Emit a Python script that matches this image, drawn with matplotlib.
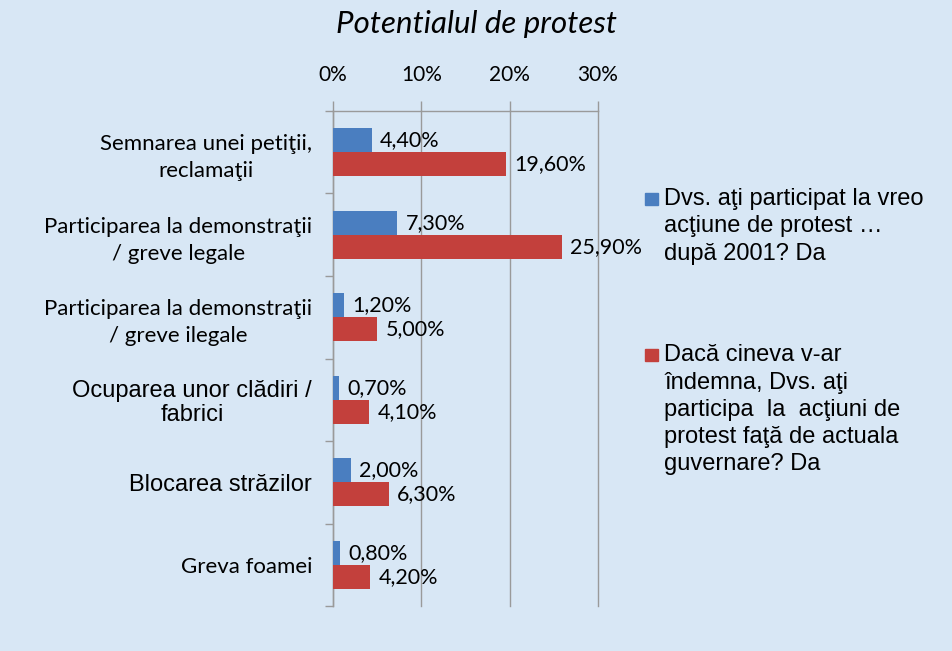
import numpy as np
import matplotlib.pyplot as plt
from matplotlib.patches import Rectangle

# Data
categories = [
    "Semnarea unei petiţii,\nreclamaţii",
    "Participarea la demonstraţii\n/ greve legale",
    "Participarea la demonstraţii\n/ greve ilegale",
    "Ocuparea unor clădiri /\nfabrici",
    "Blocarea străzilor",
    "Greva foamei",
]
participated = [4.4, 7.3, 1.2, 0.7, 2.0, 0.8]
would_participate = [19.6, 25.9, 5.0, 4.1, 6.3, 4.2]
series_names = [
    "Dvs. aţi participat la vreo\nacţiune de protest …\ndupă 2001? Da",
    "Dacă cineva v-ar\nîndemna, Dvs. aţi\nparticipa  la  acţiuni de\nprotest faţă de actuala\nguvernare? Da",
]
xticks = [0, 10, 20, 30]
colors = ["#4a7ec0", "#c3403c"]

calibri = ["Lato", "DejaVu Sans"]
arial = ["Liberation Sans", "DejaVu Sans"]
plt.rcParams['font.family'] = calibri

fig = plt.figure(figsize=(9.53, 6.51), dpi=100, facecolor="#d8e7f5")
ax = fig.add_axes([0.3494, 0.0691, 0.2781, 0.7604])
ax.set_facecolor("none")

y = np.arange(len(categories))
h = 0.29
b1 = ax.barh(y - h / 2, participated, height=h, color=colors[0], zorder=3)
b2 = ax.barh(y + h / 2, would_participate, height=h, color=colors[1], zorder=3)

fmt = lambda v: f"{v:.2f}%".replace(".", ",")
ax.bar_label(b1, labels=[fmt(v) for v in participated], padding=6, fontsize=15.5)
ax.bar_label(b2, labels=[fmt(v) for v in would_participate], padding=6, fontsize=15.5)

ax.set_xlim(0, 30)
ax.set_ylim(len(categories) - 0.5, -0.5)
ax.xaxis.tick_top()
ax.set_xticks(xticks)
ax.set_xticklabels([f"{t}%" for t in xticks], fontsize=15)
ax.tick_params(axis="x", length=7, width=1, color="#9a9a9a", pad=12)
ax.grid(axis="x", color="#9a9a9a", linewidth=1, zorder=0, clip_on=False)

ax.set_yticks(y)
ax.set_yticklabels(categories, fontsize=16, multialignment="center")
ax.tick_params(axis="y", length=0, pad=15)
ax.set_yticks(np.arange(-0.5, len(categories), 1), minor=True)
ax.tick_params(axis="y", which="minor", length=6, width=1, color="#9a9a9a")
for i, lab in enumerate(ax.get_yticklabels()):
    lab.set_linespacing(1.45)
    if i in (3, 4):
        lab.set_fontfamily(arial)
        lab.set_fontsize(17)
        lab.set_linespacing(1.1)

for s in ["right", "bottom"]:
    ax.spines[s].set_visible(False)
for s in ["left", "top"]:
    ax.spines[s].set_color("#9a9a9a")
    ax.spines[s].set_linewidth(1)

fig.text(0.5, 0.963, "Potentialul de protest", ha="center", va="center",
         fontsize=22.5, style="italic")

# legend
leg_y = [0.711, 0.471]
for name, c, ly in zip(series_names, colors, leg_y):
    fig.patches.append(Rectangle((0.677, ly - 0.026), 0.013, 0.019,
                                 transform=fig.transFigure, color=c))
    fig.text(0.697, ly, name, ha="left", va="top", fontsize=17,
             family=arial, linespacing=1.31)

fig.savefig("out.png", dpi=100, facecolor=fig.get_facecolor())
